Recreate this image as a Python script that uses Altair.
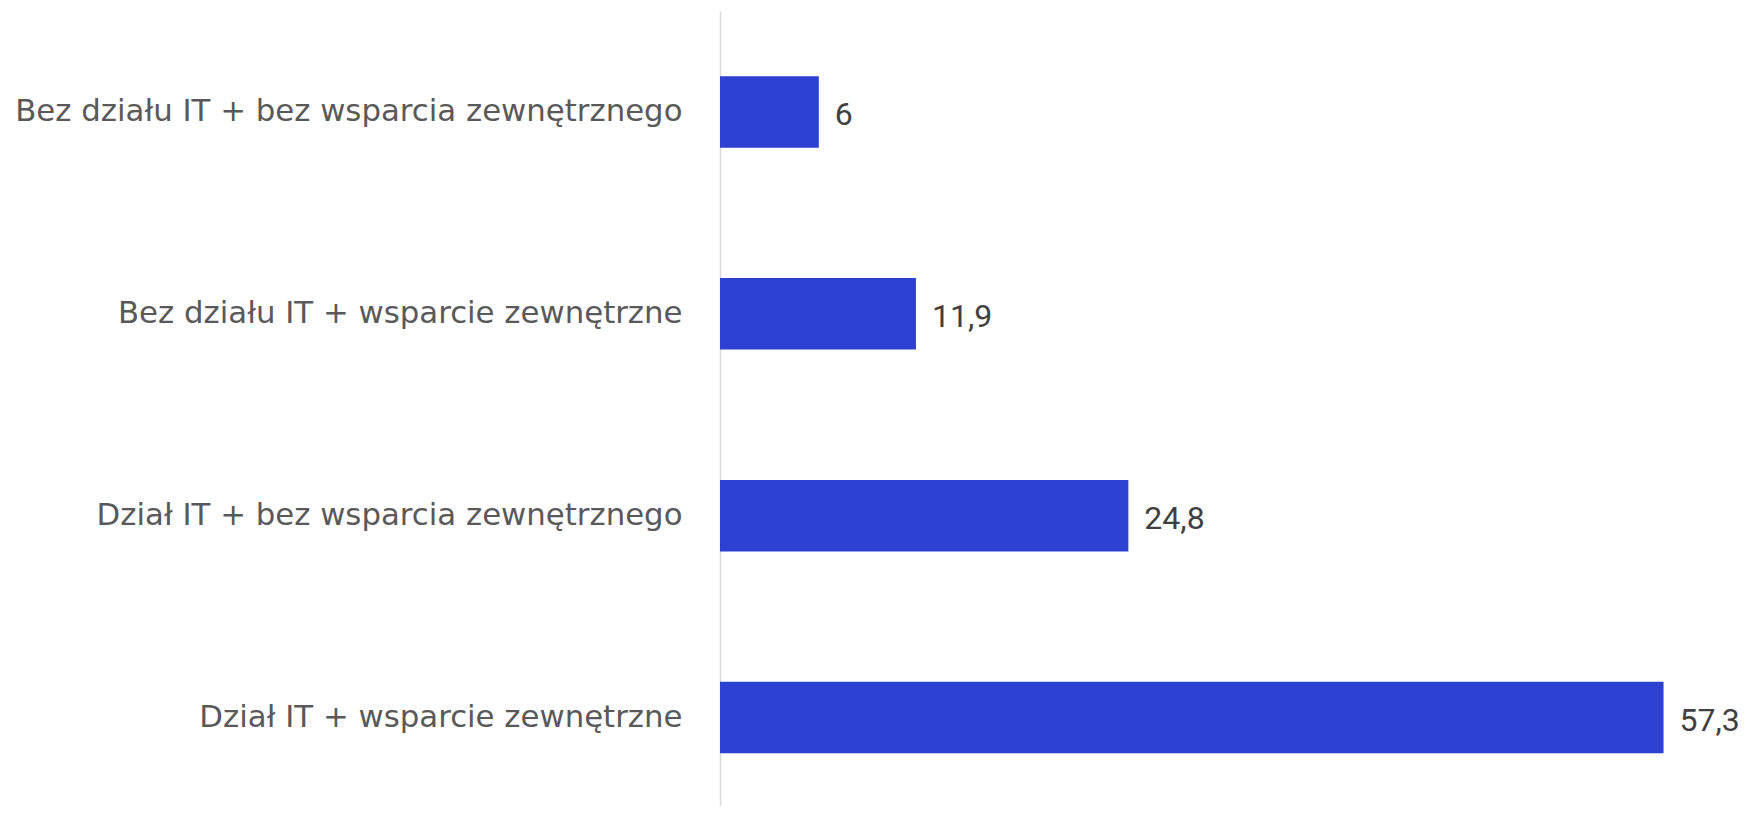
import altair as alt
import pandas as pd

categories = [
    "Bez działu IT + bez wsparcia zewnętrznego",
    "Bez działu IT + wsparcie zewnętrzne",
    "Dział IT + bez wsparcia zewnętrznego",
    "Dział IT + wsparcie zewnętrzne",
]
values = [6, 11.9, 24.8, 57.3]

df = pd.DataFrame({"category": categories, "value": values})

y_scale = alt.Scale(paddingInner=0.646, paddingOuter=0.2924, align=0.553)
y = alt.Y(
    "category:N",
    sort=categories,
    title=None,
    scale=y_scale,
    axis=alt.Axis(
        domain=True,
        domainColor="#D9D9D9",
        domainWidth=1.5,
        ticks=False,
        grid=False,
        labelFont="DejaVu Sans",
        labelFontSize=30.8,
        labelColor="#595959",
        labelPadding=38,
        labelLimit=900,
    ),
)
x = alt.X("value:Q", scale=alt.Scale(domain=[0, 60], nice=False, zero=True), axis=None)

bars = alt.Chart(df).mark_bar(color="#2C40D2").encode(x=x, y=y)
text = (
    alt.Chart(df)
    .transform_calculate(label="replace(format(datum.value, '.1~f'), '.', ',')")
    .mark_text(align="left", baseline="middle", dx=16, dy=3, font="Roboto", fontSize=32, color="#404040")
    .encode(x=x, y=alt.Y("category:N", sort=categories), text="label:N")
)

chart = (
    (bars + text)
    .properties(
        width=988,
        height=795,
        padding={"left": 712, "top": 3, "right": 33, "bottom": 0},
        autosize=alt.AutoSizeParams(type="none"),
    )
    .configure_view(stroke=None)
)

chart.save("out.html", embed_options={"renderer": "svg", "actions": False})
